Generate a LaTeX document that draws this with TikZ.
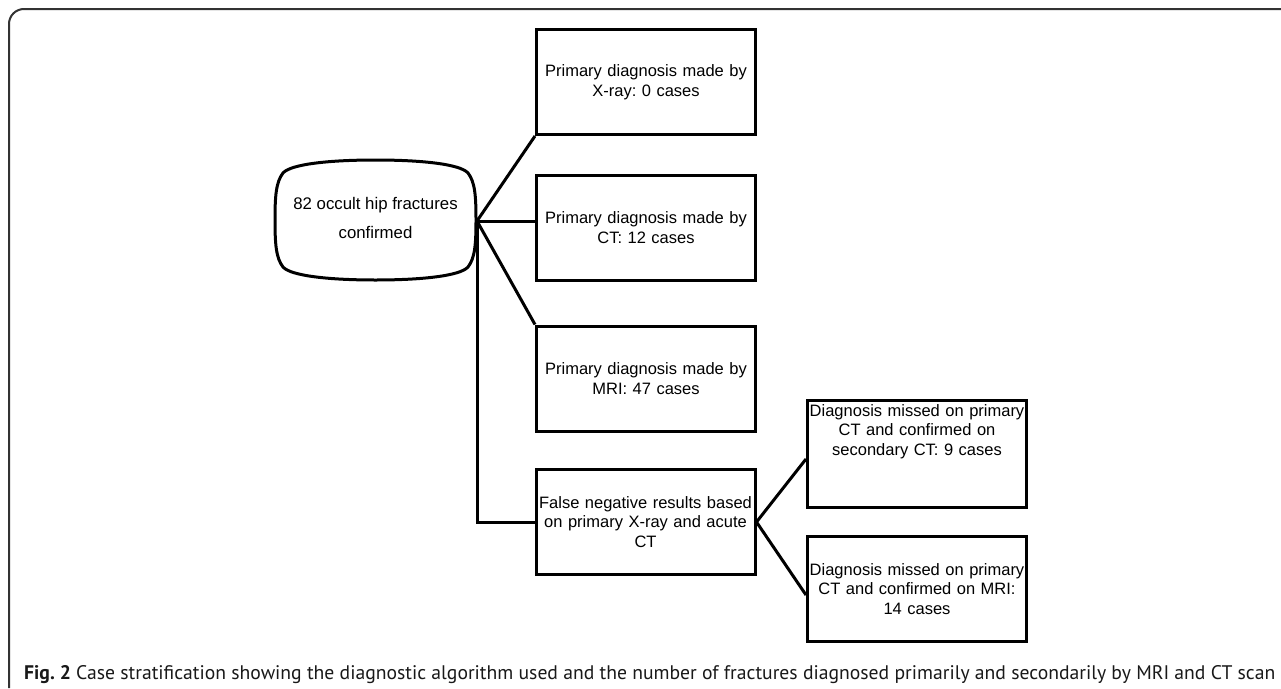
\documentclass[tikz,border=0pt]{standalone}
\usepackage{fontspec}
\usetikzlibrary{calc}
\setmainfont{Liberation Sans}
\newfontfamily\capfont{PT Sans}
\frenchspacing
\begin{document}
\begin{tikzpicture}[x=1pt,y=-1pt,
  boxnode/.style={draw=black, line width=3pt, minimum width=219pt, minimum height=105pt,
    inner sep=0pt, align=center, text width=219pt,
    font=\fontsize{16.5}{19.5}\selectfont},
  conn/.style={draw=black, line width=3pt},
  frame/.style={draw=black!80, line width=2pt, rounded corners=15pt}]
\useasboundingbox (0,0) rectangle (1281,688);
\fill[white] (0,0) rectangle (1281,688);
\draw[frame] (9,688) -- (9,9) -- (1281,9);

% start node
\draw[line width=3pt]
  (275,220) .. controls (275,196) and (276,182) .. (283,173)
  .. controls (291,164) and (330,160) .. (375.5,160)
  .. controls (421,160) and (460,164) .. (468,173)
  .. controls (475,182) and (476,196) .. (476,220)
  .. controls (476,244) and (475,258) .. (468,267)
  .. controls (460,276) and (421,280) .. (375.5,280)
  .. controls (330,280) and (291,276) .. (283,267)
  .. controls (276,258) and (275,244) .. (275,220) -- cycle;
\node[align=center, font=\fontsize{16.8}{29.5}\selectfont\frenchspacing] (start) at (375.5,218)
  {82 occult hip fractures\\confirmed};

\node[boxnode] (b1) at (646,82) {Primary diagnosis made by\\X-ray: 0 cases};
\node[boxnode] (b2) at (646,227.5) {Primary diagnosis made by\\CT: 12 cases};
\node[boxnode] (b3) at (646,378.5) {Primary diagnosis made by\\MRI: 47 cases};
\node[boxnode] (b4) at (645.5,522) {False negative results based\\on primary X-ray and acute\\CT};
\node[boxnode, minimum height=107pt] (b5) at (917,454)
  {\parbox[c][105pt][t]{219pt}{\centering\vspace{3pt}Diagnosis missed on primary\\CT and confirmed on\\secondary CT: 9 cases}};
\node[boxnode] (b6) at (917,589) {Diagnosis missed on primary\\CT and confirmed on MRI:\\14 cases};

\coordinate (j) at (477,221);
\draw[conn] (j) -- (b1.south west);
\draw[conn] (j) -- (j -| b2.west);
\draw[conn] (j) -- (b3.north west);
\draw[conn] (j) |- (b4.west);
\draw[conn] (b4.east) -- ($(b5.west)+(0,5)$);
\draw[conn] (b4.east) -- ($(b6.west)+(0,6)$);

\node[anchor=base west, inner sep=0pt, text=black!90] (cap) at (24,679)
  {\resizebox{1251pt}{!}{\capfont\fontsize{18}{20}\selectfont\textbf{Fig. 2} Case stratification showing the diagnostic algorithm used and the number of fractures diagnosed primarily and secondarily by MRI and CT scan}};
\end{tikzpicture}
\end{document}
